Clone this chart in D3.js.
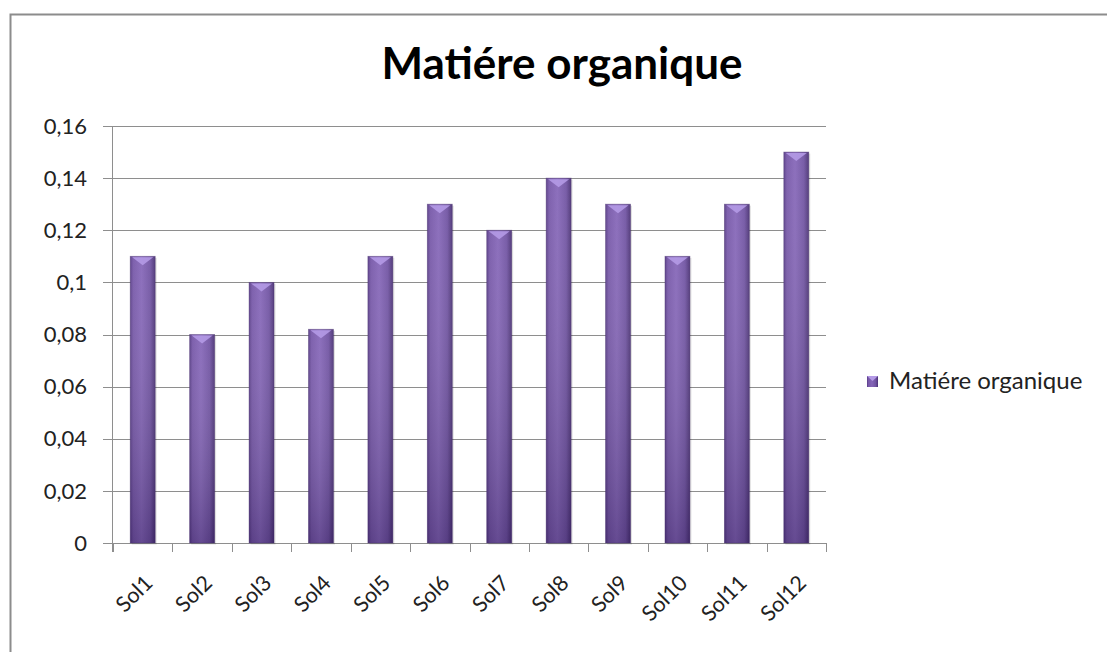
<!DOCTYPE html>
<html><head><meta charset="utf-8">
<script src="https://cdn.jsdelivr.net/npm/d3@7"></script>
<style>body{margin:0;background:#fff}svg{display:block}</style>
</head><body>
<svg id="c" width="1107" height="652"></svg>
<script>
const categories = ["Sol1","Sol2","Sol3","Sol4","Sol5","Sol6","Sol7","Sol8","Sol9","Sol10","Sol11","Sol12"];
const values = [0.11,0.08,0.10,0.082,0.11,0.13,0.12,0.14,0.13,0.11,0.13,0.15];
const yTicks = [0,0.02,0.04,0.06,0.08,0.1,0.12,0.14,0.16];
const seriesName = "Matiére organique";
const title = "Matiére organique";

const svg = d3.select("#c");
const font = "Lato, 'Open Sans', sans-serif";

// outer border (top & left visible)
svg.append("path").attr("d","M10.5,652 L10.5,14.5 L1107,14.5").attr("fill","none").attr("stroke","#8c8c8c").attr("stroke-width",2);

const x = d3.scaleBand().domain(categories).range([113,826]).paddingInner(0.58).paddingOuter(0.29);
const xb = d3.scaleBand().domain(categories).range([113,826]);
const y = d3.scaleLinear().domain([0,0.16]).range([543,126]);

const defs = svg.append("defs");
const gh = defs.append("linearGradient").attr("id","gh").attr("x1","0").attr("x2","1").attr("y1","0").attr("y2","0");
[["0%","#573b86"],["12%","#7657a8"],["45%","#8566b8"],["80%","#7053a2"],["100%","#4a3174"]].forEach(s=>gh.append("stop").attr("offset",s[0]).attr("stop-color",s[1]));
const gv = defs.append("linearGradient").attr("id","gv").attr("x1","0").attr("x2","0").attr("y1","0").attr("y2","1");
[["0%","#ffffff",0.06],["100%","#1c0c3a",0.3]].forEach(s=>gv.append("stop").attr("offset",s[0]).attr("stop-color",s[1]).attr("stop-opacity",s[2]));

// gridlines
svg.append("g").selectAll("line").data(yTicks).join("line")
  .attr("x1",103).attr("x2",826).attr("y1",d=>Math.round(y(d))+0.5).attr("y2",d=>Math.round(y(d))+0.5)
  .attr("stroke","#8e8e8e").attr("stroke-width",1);

// y axis line
svg.append("line").attr("x1",112.5).attr("x2",112.5).attr("y1",126).attr("y2",552).attr("stroke","#8e8e8e");
// x ticks
const bounds = categories.map(c=>xb(c)).concat([826]);
svg.append("g").selectAll("line").data(bounds).join("line")
  .attr("x1",d=>Math.round(d)+0.5).attr("x2",d=>Math.round(d)+0.5).attr("y1",543).attr("y2",552).attr("stroke","#8e8e8e");

// y labels
svg.append("g").selectAll("text").data(yTicks).join("text")
  .attr("x",87).attr("y",d=>y(d)).attr("dy","0.35em").attr("text-anchor","end")
  .attr("font-family",font).attr("font-size",22).attr("fill","#222")
  .text(d=>d3.format("")(d).replace(".",","));

// bars
const bars = svg.append("g");
categories.forEach((c,i)=>{
  const bx = x(c), bw = x.bandwidth(), top = y(values[i]), h = y(0)-top;
  bars.append("rect").attr("x",bx+1.5).attr("y",top+1.5).attr("width",bw).attr("height",h).attr("fill","#000").attr("opacity",0.12);
  bars.append("rect").attr("x",bx).attr("y",top).attr("width",bw).attr("height",h).attr("fill","url(#gh)");
  bars.append("rect").attr("x",bx).attr("y",top).attr("width",bw).attr("height",h).attr("fill","url(#gv)");
  bars.append("path").attr("d",`M${bx+2},${top+1} L${bx+bw-2},${top+1} L${bx+bw/2},${top+9} Z`).attr("fill","#b49ae6").attr("opacity",0.9);
  bars.append("rect").attr("x",bx).attr("y",top).attr("width",bw).attr("height",h).attr("fill","none").attr("stroke","#4a3270").attr("stroke-opacity",0.5).attr("stroke-width",0.8);
});

// x labels
svg.append("g").selectAll("text").data(categories).join("text")
  .attr("transform",c=>`translate(${xb(c)+xb.bandwidth()/2+6},579) rotate(-45)`)
  .attr("text-anchor","end").attr("dy","0.35em")
  .attr("font-family",font).attr("font-size",21.5).attr("fill","#222").text(c=>c);

// title
svg.append("text").attr("x",562).attr("y",79).attr("text-anchor","middle")
  .attr("font-family",font).attr("font-weight","bold").attr("font-size",44).attr("fill","#000").text(title);

// legend
const lg = svg.append("g");
lg.append("rect").attr("x",867).attr("y",376).attr("width",11).attr("height",11).attr("fill","url(#gh)");
lg.append("path").attr("d","M867,376 L878,376 L872.5,381 Z").attr("fill","#b49ae6");
lg.append("text").attr("x",889).attr("y",389).attr("font-family",font).attr("font-size",24).attr("fill","#222").text(seriesName);
</script>
</body></html>
